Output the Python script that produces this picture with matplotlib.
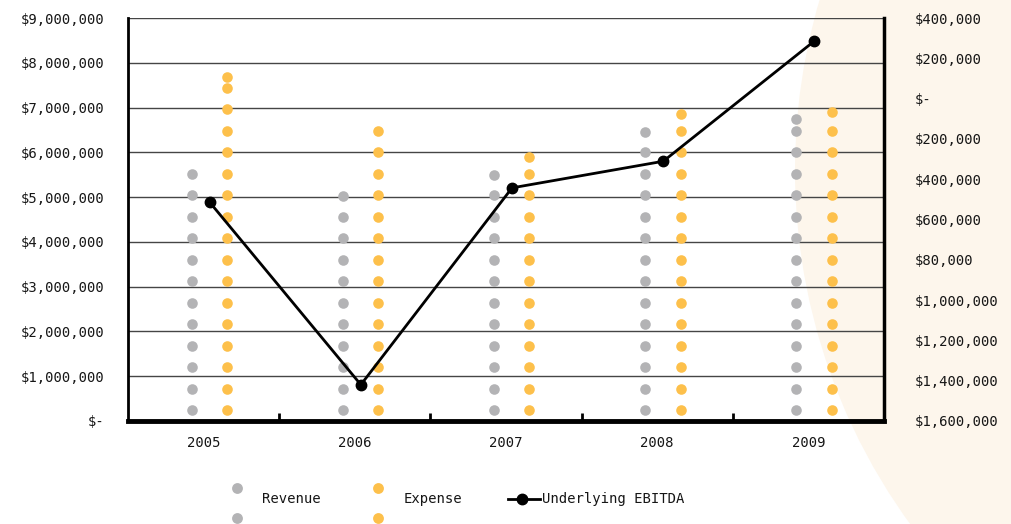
"""
Revenue / expense pictogram columns with underlying EBITDA line.

Writes: out.png
"""

import math
import matplotlib.pyplot as plt
import matplotlib.patches as mpatches
from matplotlib.lines import Line2D
from matplotlib.ticker import FuncFormatter

W, H, DPI = 1011, 524, 100

FONT     = "DejaVu Sans Mono"
FSIZE    = 10
TEXT_COL = "#161616"
GRID_COL = "#454545"
REV_COL  = "#b3b3b5"
EXP_COL  = "#fdc04b"
CREAM    = "#fdf6ec"

# data
years   = ["2005", "2006", "2007", "2008", "2009"]
revenue = [5_740_000, 5_250_000, 5_690_000, 6_680_000, 6_750_000]
expense = [7_700_000, 6_700_000, 6_050_000, 7_000_000, 7_070_000]
ebitda  = [-514_000, -1_420_000, -443_000, -311_000, 286_000]

left_ticks   = [i * 1_000_000 for i in range(10)]
right_ticks  = [400_000 - i * 200_000 for i in range(11)]
right_labels = ["$400,000", "$200,000", "$-", "$200,000", "$400,000", "$600,000",
                "$80,000", "$1,000,000", "$1,200,000", "$1,400,000", "$1,600,000"]

DOT_UNIT = 480_000   # value represented by one dot


def dot_centres(value):
    n = math.ceil(value / DOT_UNIT)
    ys = [(k + 0.5) * DOT_UNIT for k in range(n - 1)]
    ys.append(((n - 1) * DOT_UNIT + value) / 2)   # last dot squeezed into remainder
    return ys


def dollars(v, _pos=None):
    return "$-" if v == 0 else f"${v:,.0f}"


def main():
    fig = plt.figure(figsize=(W / DPI, H / DPI), dpi=DPI)
    fig.patch.set_facecolor("white")

    # background decoration in pixel coordinates
    bg = fig.add_axes([0, 0, 1, 1], zorder=-10)
    bg.set_xlim(0, W)
    bg.set_ylim(H, 0)
    bg.axis("off")
    bg.add_patch(mpatches.Circle((1397, 170), 602, facecolor=CREAM, edgecolor="none"))

    ax = fig.add_axes([128 / W, (H - 421) / H, (884 - 128) / W, (421 - 18) / H])
    ax.set_facecolor("none")
    ax.set_xlim(-0.5, len(years) - 0.5)
    ax.set_ylim(0, 9_000_000)

    for i, (r, e) in enumerate(zip(revenue, expense)):
        ry = dot_centres(r)
        ey = dot_centres(e)
        ax.scatter([i - 0.08] * len(ry), ry, s=58, color=REV_COL, linewidths=0, zorder=3)
        ax.scatter([i + 0.155] * len(ey), ey, s=58, color=EXP_COL, linewidths=0, zorder=3)

    ax.set_yticks(left_ticks)
    ax.yaxis.set_major_formatter(FuncFormatter(dollars))
    ax.tick_params(axis="y", length=0, pad=17, labelsize=FSIZE, labelcolor=TEXT_COL)
    ax.grid(axis="y", color=GRID_COL, linewidth=1)
    ax.set_axisbelow(True)

    ax.set_xticks(range(len(years)))
    ax.set_xticklabels(years)
    ax.set_xticks([i + 0.5 for i in range(len(years) - 1)], minor=True)
    ax.tick_params(axis="x", which="major", length=0, pad=11, labelsize=FSIZE, labelcolor=TEXT_COL)
    ax.tick_params(axis="x", which="minor", direction="in", length=6, width=2, color="black")

    for lbl in ax.get_xticklabels() + ax.get_yticklabels():
        lbl.set_fontfamily(FONT)

    ax.spines["top"].set_visible(False)
    ax.spines["left"].set_linewidth(2)
    ax.spines["bottom"].set_linewidth(3.5)
    ax.spines["right"].set_linewidth(2.5)

    ax2 = ax.twinx()
    ax2.set_ylim(-1_600_000, 400_000)
    ax2.plot([i + 0.04 for i in range(len(years))], ebitda, color="black", lw=2,
             marker="o", ms=7.5, zorder=5)
    ax2.set_yticks(right_ticks)
    ax2.set_yticklabels(right_labels, fontfamily=FONT)
    ax2.tick_params(axis="y", length=0, pad=22, labelsize=FSIZE, labelcolor=TEXT_COL)
    for side in ("top", "left", "bottom", "right"):
        ax2.spines[side].set_visible(False)

    # legend, drawn by hand below the chart
    for x, col in ((237, REV_COL), (378, EXP_COL)):
        bg.add_line(Line2D([x, x], [488, 518], ls="none", marker="o", ms=7.8,
                           markerfacecolor=col, markeredgewidth=0))
    bg.add_line(Line2D([508, 540], [499, 499], color="black", lw=2))
    bg.add_line(Line2D([522], [499], marker="o", ms=7.5, color="black"))
    for x, txt in ((262, "Revenue"), (404, "Expense"), (542, "Underlying EBITDA")):
        bg.text(x, 499, txt, ha="left", va="center", fontsize=FSIZE,
                fontfamily=FONT, color=TEXT_COL)

    fig.savefig("out.png", dpi=DPI)
    plt.close(fig)


if __name__ == "__main__":
    main()
